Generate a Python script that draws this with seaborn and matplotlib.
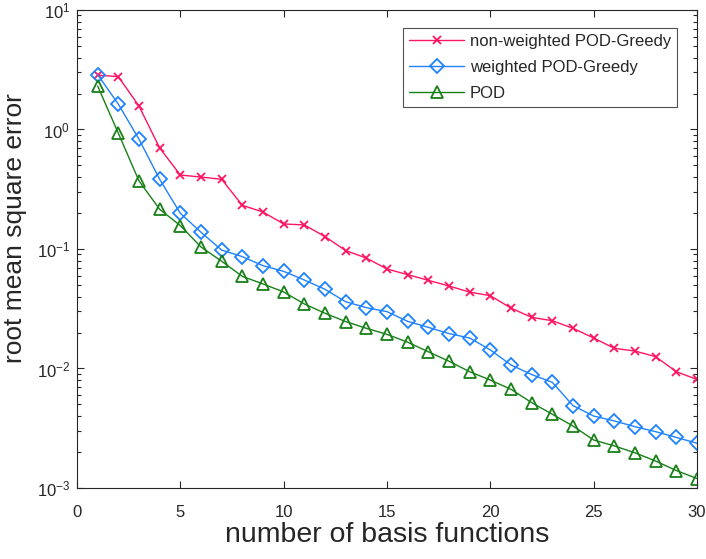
import numpy as np
import pandas as pd
import matplotlib
matplotlib.use("Agg")
import matplotlib.pyplot as plt
import seaborn as sns
from matplotlib.ticker import LogLocator, FixedLocator

n_basis = list(range(1, 31))
nonweighted = [2.85, 2.77, 1.57, 0.70, 0.416, 0.40, 0.383, 0.232, 0.204, 0.162,
               0.159, 0.127, 0.097, 0.084, 0.068, 0.061, 0.0547, 0.049, 0.0436, 0.0407,
               0.032, 0.0268, 0.0251, 0.0217, 0.018, 0.01475, 0.014, 0.01256, 0.0094, 0.0081]
weighted = [2.88, 1.63, 0.83, 0.383, 0.199, 0.138, 0.098, 0.0863, 0.0725, 0.065,
            0.055, 0.046, 0.0362, 0.0323, 0.0299, 0.0248, 0.0221, 0.0196, 0.018, 0.0143,
            0.0107, 0.0089, 0.00766, 0.00489, 0.0040, 0.00364, 0.00326, 0.00296, 0.00265, 0.00237]
pod = [2.31, 0.93, 0.371, 0.215, 0.157, 0.104, 0.079, 0.059, 0.051, 0.0437,
       0.0347, 0.029, 0.0247, 0.0217, 0.0193, 0.0166, 0.0138, 0.0115, 0.0094, 0.0080,
       0.0067, 0.00518, 0.00414, 0.0033, 0.00252, 0.00225, 0.00197, 0.00168, 0.0014, 0.0012]
labels = ["non-weighted POD-Greedy", "weighted POD-Greedy", "POD"]
x_ticks = [0, 5, 10, 15, 20, 25, 30]

sns.set_theme(style="ticks")
plt.rcParams['font.family'] = ['Liberation Sans', 'DejaVu Sans']
plt.rcParams['mathtext.fontset'] = 'custom'
plt.rcParams['mathtext.rm'] = 'Liberation Sans'

fig = plt.figure(figsize=(7.06, 5.59), dpi=100)
ax = fig.add_axes([77/706, 71/559, 620/706, 478/559])

styles = [
    dict(color="#FF1462", marker="x", markersize=6, markeredgewidth=1.3),
    dict(color="#1E82FF", marker="D", markersize=7, markerfacecolor="none", markeredgewidth=1.3),
    dict(color="#188018", marker="^", markersize=9, markerfacecolor="none", markeredgewidth=1.3),
]
for vals, lab, st in zip([nonweighted, weighted, pod], labels, styles):
    df = pd.DataFrame({"n": n_basis, "err": vals})
    sns.lineplot(data=df, x="n", y="err", ax=ax, label=lab, linewidth=1.0,
                 markeredgecolor=st["color"], **st)

ax.set_yscale("log")
ax.set_xlim(0, 30)
ax.set_ylim(1e-3, 1e1)
ax.xaxis.set_major_locator(FixedLocator(x_ticks))
ax.yaxis.set_major_locator(LogLocator(base=10, numticks=10))
ax.yaxis.set_minor_locator(LogLocator(base=10, subs=np.arange(2, 10), numticks=10))
ax.tick_params(which="both", direction="in", top=True, right=True, labelsize=12,
               colors="#262626", width=0.8)
ax.tick_params(which="major", length=5)
ax.tick_params(which="minor", length=3)
ax.tick_params(axis="x", which="major", pad=12)
ax.tick_params(axis="y", which="major", pad=5)
for s in ax.spines.values():
    s.set_color("#262626")
    s.set_linewidth(0.8)

ax.set_xlabel("number of basis functions", fontsize=20.5, color="#262626", labelpad=2)
ax.set_ylabel("root mean square error", fontsize=19, color="#262626")
ax.yaxis.set_label_coords(-0.081, 0.543)

leg = ax.legend(loc="upper right", bbox_to_anchor=(0.968, 0.962), borderaxespad=0,
                fontsize=12, frameon=True, fancybox=False, edgecolor="#262626",
                handlelength=3.3, handletextpad=0.35, borderpad=0.35, labelspacing=0.67)
leg.get_frame().set_linewidth(0.8)

fig.savefig("out.png", dpi=100)
